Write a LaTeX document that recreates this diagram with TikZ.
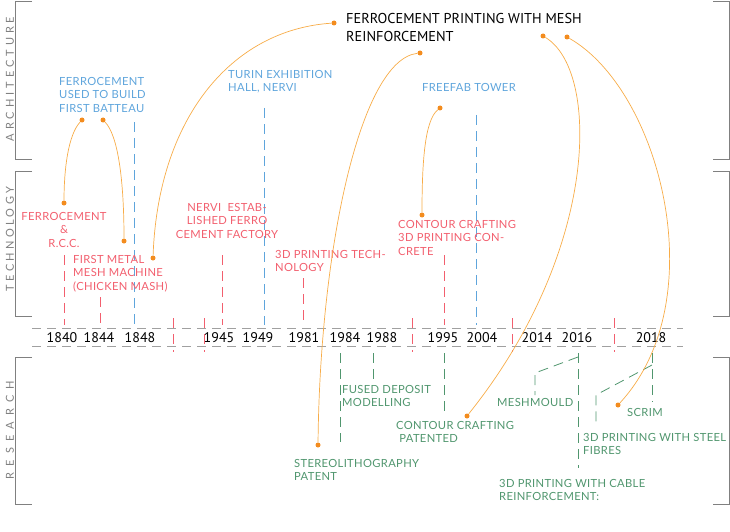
\documentclass[tikz,border=0pt]{standalone}
\usepackage{fontspec}
\setmainfont{Lato}[LetterSpace=3]
\newfontfamily\yearfont{PT Sans}
\newfontfamily\sidefont{Lato}
\definecolor{archblue}{RGB}{95,165,220}
\definecolor{techred}{RGB}{242,95,110}
\definecolor{resgreen}{RGB}{80,150,110}
\definecolor{linkorange}{RGB}{247,172,72}
\definecolor{dotorange}{RGB}{243,140,30}
\definecolor{framegray}{RGB}{128,128,128}
\definecolor{axisgray}{RGB}{160,160,160}
\tikzset{
  lbl/.style={inner sep=0pt, anchor=north west, align=left,
    font=\fontsize{11.2}{13.6}\selectfont},
  archlbl/.style={lbl, text=archblue},
  techlbl/.style={lbl, text=techred},
  reslbl/.style={lbl, text=resgreen},
  yearlbl/.style={inner sep=0pt, anchor=base, font=\yearfont\fontsize{14}{16}\selectfont},
  sidelbl/.style={inner sep=0pt, rotate=90, text=framegray,
    font=\sidefont\addfontfeature{LetterSpace=#1}\fontsize{11}{12}\selectfont},
  frame/.style={framegray, line width=1pt},
  axisline/.style={axisgray, line width=0.8pt, dash pattern=on 9pt off 6pt},
  marker/.style={line width=0.8pt, dash pattern=on 10pt off 6pt},
  link/.style={linkorange, line width=0.7pt},
  dot/.style={circle, fill=dotorange, inner sep=0pt, minimum size=5pt}
}
\begin{document}
\begin{tikzpicture}[x=1pt, y=-1pt]
    \useasboundingbox (0,0) rectangle (730,532);

    % side brackets
    \draw[frame] (32,2) -- (15,2) -- (15,159) -- (32,159);
    \draw[frame] (32,171) -- (15,171) -- (15,316) -- (32,316);
    \draw[frame] (32,357) -- (15,357) -- (15,504) -- (32,504);
    \draw[frame] (713,2) -- (729,2) -- (729,159) -- (713,159);
    \draw[frame] (713,171) -- (729,171) -- (729,316) -- (713,316);
    \draw[frame] (713,357) -- (729,357) -- (729,504) -- (713,504);
    \node[sidelbl=36] (archside) at (10,79) {ARCHITECTURE};
    \node[sidelbl=30] (techside) at (10,239) {TECHNOLOGY};
    \node[sidelbl=56] (resside) at (10,430) {RESEARCH};

    % time axis
    \draw[axisline] (32,328) -- (683,328);
    \draw[axisline] (32,346) -- (683,346);
    \foreach \yr/\x in {1840/62,1844/99,1848/140,1945/219,1949/258,1981/304,
        1984/345,1988/382,1995/443,2004/482,2014/537,2016/577,2018/651}
        \node[yearlbl] (y\yr) at (\x,342) {\yr};
    \foreach \x in {173,204,412,512,614}
        \draw[marker, techred, line width=0.6pt] (\x,318) -- (\x,352);

    % year markers
    \draw[marker, techred] (64,255) -- (64,325);
    \draw[marker, techred] (100,297) -- (100,325);
    \draw[marker, archblue] (134,122) -- (134,325);
    \draw[marker, techred] (222,255) -- (222,325);
    \draw[marker, archblue] (264,108) -- (264,325);
    \draw[marker, techred] (303,278) -- (303,325);
    \draw[marker, techred] (444,255) -- (444,325);
    \draw[marker, archblue] (476,115) -- (476,325);
    \draw[marker, resgreen] (340,353) -- (340,442);
    \draw[marker, resgreen] (373,353) -- (373,380);
    \draw[marker, resgreen] (444,353) -- (444,415);
    \draw[marker, resgreen] (578,353) -- (578,468);
    \draw[marker, resgreen] (578,357) -- (535,373) -- (535,395);
    \draw[marker, resgreen] (652,353) -- (652,402);
    \draw[marker, resgreen] (652,365) -- (596,395) -- (596,427);

    % labels
    \node[lbl, font=\yearfont\fontsize{14.3}{18.5}\selectfont] (title) at (346,13)
        {FERROCEMENT PRINTING WITH MESH\\REINFORCEMENT};
    \node[archlbl] (batteau) at (59,77) {FERROCEMENT\\USED TO BUILD\\FIRST BATTEAU};
    \node[archlbl] (turin) at (228,70) {TURIN EXHIBITION\\HALL, NERVI};
    \node[archlbl] (freefab) at (422,83) {FREEFAB TOWER};
    \node[techlbl, anchor=north, align=center] (rcc) at (64,212) {FERROCEMENT\\\&\\R.C.C.};
    \node[techlbl] (meshmach) at (73,255) {FIRST METAL\\MESH MACHINE\\(CHICKEN MASH)};
    \node[techlbl, anchor=north, align=center] (nervi) at (227,203)
        {NERVI\ \ ESTAB-\\LISHED FERRO\\CEMENT FACTORY};
    \node[techlbl] (printtech) at (275,250) {3D PRINTING TECH-\\NOLOGY};
    \node[techlbl] (contour) at (398,220) {CONTOUR CRAFTING\\3D PRINTING CON-\\CRETE};
    \node[reslbl] (fdm) at (342,385) {FUSED DEPOSIT\\MODELLING};
    \node[reslbl] (ccpat) at (396,421) {CONTOUR CRAFTING\\\ PATENTED};
    \node[reslbl] (stereo) at (294,459) {STEREOLITHOGRAPHY\\PATENT};
    \node[reslbl] (meshmould) at (497,398) {MESHMOULD};
    \node[reslbl] (scrim) at (627,408) {SCRIM};
    \node[reslbl] (steel) at (583,433) {3D PRINTING WITH STEEL\\FIBRES};
    \node[reslbl] (cable) at (499,479) {3D PRINTING WITH CABLE\\REINFORCEMENT:};

    % orange links
    \node[dot] (batteauL) at (82,120) {};
    \node[dot] (batteauR) at (103,120) {};
    \node[dot] (rccdot) at (64,203) {};
    \node[dot] (meshdot) at (124,241) {};
    \node[dot] (meshdot2) at (153,258) {};
    \node[dot] (titleL) at (334,23) {};
    \node[dot] (titleM) at (420,53) {};
    \node[dot] (stereodot) at (318,445) {};
    \node[dot] (freefabdot) at (440,108) {};
    \node[dot] (contourdot) at (422,215) {};
    \node[dot] (titleR1) at (543,36) {};
    \node[dot] (titleR2) at (567,37) {};
    \node[dot] (ccpatdot) at (467,416) {};
    \node[dot] (scrimdot) at (618,405) {};
    \draw[link] (batteauL) .. controls (68,135) and (64,170) .. (rccdot);
    \draw[link] (batteauR) .. controls (118,135) and (124,180) .. (meshdot);
    \draw[link] (meshdot2) .. controls (158,120) and (230,30) .. (titleL);
    \draw[link] (titleM) .. controls (360,60) and (320,250) .. (stereodot);
    \draw[link] (freefabdot) .. controls (425,120) and (422,160) .. (contourdot);
    \draw[link] (titleR1) .. controls (600,70) and (600,250) .. (ccpatdot);
    \draw[link] (titleR2) .. controls (660,90) and (715,300) .. (scrimdot);
\end{tikzpicture}
\end{document}
